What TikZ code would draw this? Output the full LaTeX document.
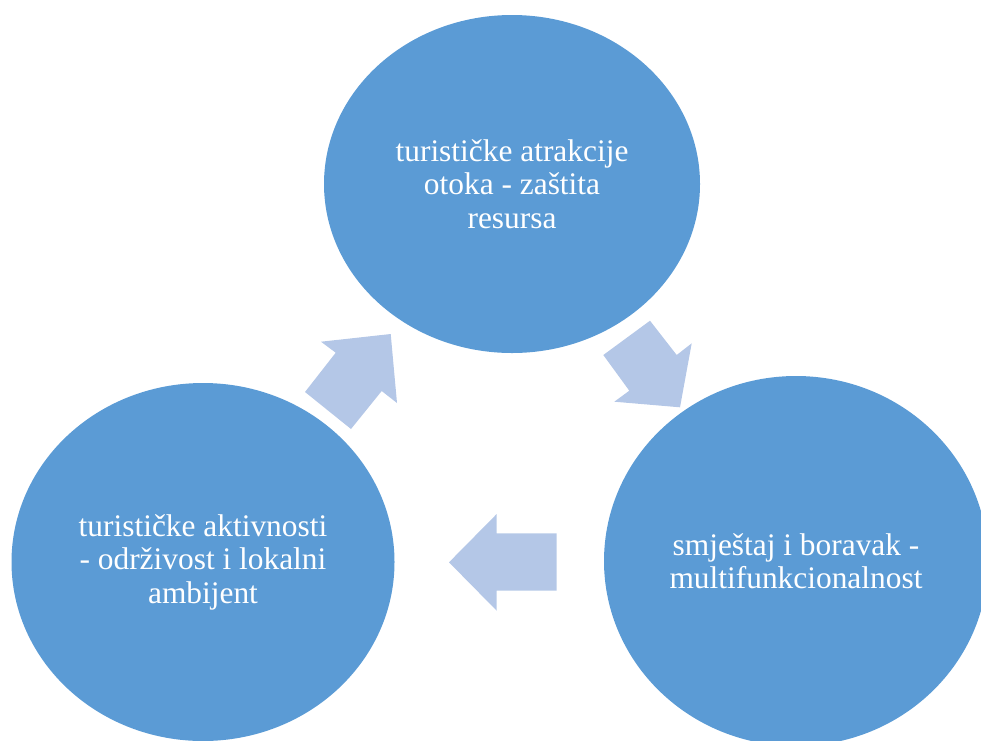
\documentclass[tikz,border=0pt]{standalone}
\usepackage{fontspec}
\setmainfont{Liberation Serif}
\usetikzlibrary{shapes.geometric}
\definecolor{circblue}{HTML}{5B9BD5}
\definecolor{arrblue}{HTML}{B4C7E7}
\begin{document}
\begin{tikzpicture}[x=1pt,y=-1pt,
  bubble/.style={ellipse, fill=circblue, draw=none, inner sep=0pt, text=white, align=center,
    font=\fontsize{31.4}{33.5}\selectfont},
  blockarrow/.style={fill=arrblue, draw=none}]
\useasboundingbox (0,0) rectangle (981,740);
\clip (0,0) rectangle (981,740);
\node[bubble, minimum width=376pt, minimum height=338pt] (top) at (512,184)
  {turističke atrakcije\\otoka - zaštita\\resursa};
\node[bubble, minimum width=383pt, minimum height=358pt] (left) at (203,562)
  {turističke aktivnosti\\- održivost i lokalni\\ambijent};
\node[bubble, minimum width=384pt, minimum height=370pt] (right) at (796,561)
  {smještaj i boravak -\\multifunkcionalnost};
% arrow left -> top
\fill[blockarrow] (390.7,334) -- (397,403) -- (381.7,391) -- (351,429) -- (305,392)
  -- (335.7,352.7) -- (321,341.7) -- cycle;
% arrow top -> right
\fill[blockarrow] (680,407.3) -- (614.3,401.7) -- (629.3,390.7) -- (603.3,355)
  -- (650,320.7) -- (676.7,355) -- (691.7,343.3) -- cycle;
% arrow right -> left
\fill[blockarrow] (449,562.3) -- (496.7,514) -- (496.7,533.3) -- (556.7,533.3)
  -- (556.7,590.7) -- (496.7,590.7) -- (496.7,610.7) -- cycle;
\end{tikzpicture}
\end{document}
